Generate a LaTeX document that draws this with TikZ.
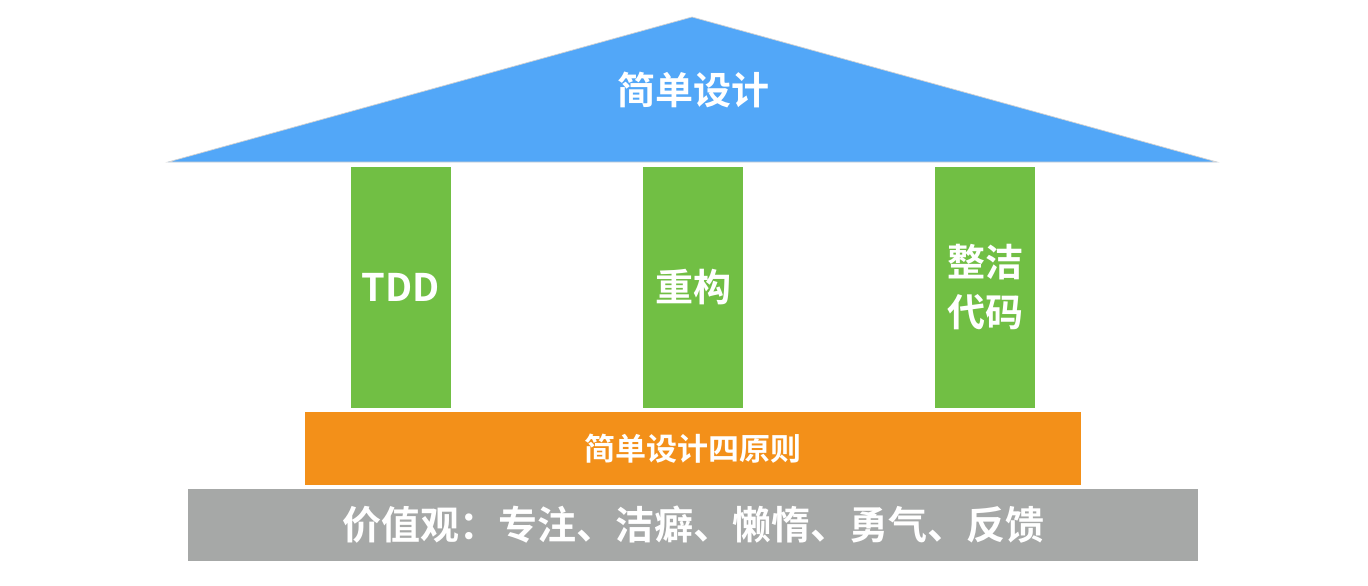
\documentclass[tikz,border=0pt]{standalone}
\usepackage{fontspec}
\setmainfont{Noto Sans CJK SC}[BoldFont={Noto Sans CJK SC Bold}]
\definecolor{roofblue}{HTML}{52A7F8}
\definecolor{pillargreen}{HTML}{71BF44}
\definecolor{baseorange}{HTML}{F39019}
\definecolor{basegray}{HTML}{A6A8A7}
\tikzset{
  pillar/.style={fill=pillargreen, minimum width=100pt, minimum height=241pt, inner sep=0pt, text=white, font=\fontsize{38}{50}\selectfont\bfseries, align=center},
  bigtext/.style={text=white, font=\fontsize{38}{50}\selectfont\bfseries},
}
\begin{document}
\begin{tikzpicture}[x=1pt,y=-1pt]
\useasboundingbox (0,0) rectangle (1368,586);
% roof
\fill[roofblue, draw=gray!35, line width=0.7pt] (168,162) coordinate (rl) -- (692,17) coordinate (rt) -- (1217,162) coordinate (rr) -- cycle;
\node[bigtext] (roof) at (693,90) {简单设计};
% pillars
\node[pillar] (p1) at (401,287.5) {TDD};
\node[pillar] (p2) at (693,287.5) {重构};
\node[pillar] (p3) at (985,287.5) {整洁\\代码};
% orange base
\node[fill=baseorange, minimum width=776pt, minimum height=73pt, inner sep=0pt, text=white, font=\fontsize{31}{36}\selectfont\bfseries] (principles) at (693,448.5) {简单设计四原则};
% gray base
\node[fill=basegray, minimum width=1010pt, minimum height=72pt, inner sep=0pt, text=white, font=\fontsize{39}{46}\selectfont\bfseries] (values) at (693,525) {价值观：专注、洁癖、懒惰、勇气、反馈};
\end{tikzpicture}
\end{document}
